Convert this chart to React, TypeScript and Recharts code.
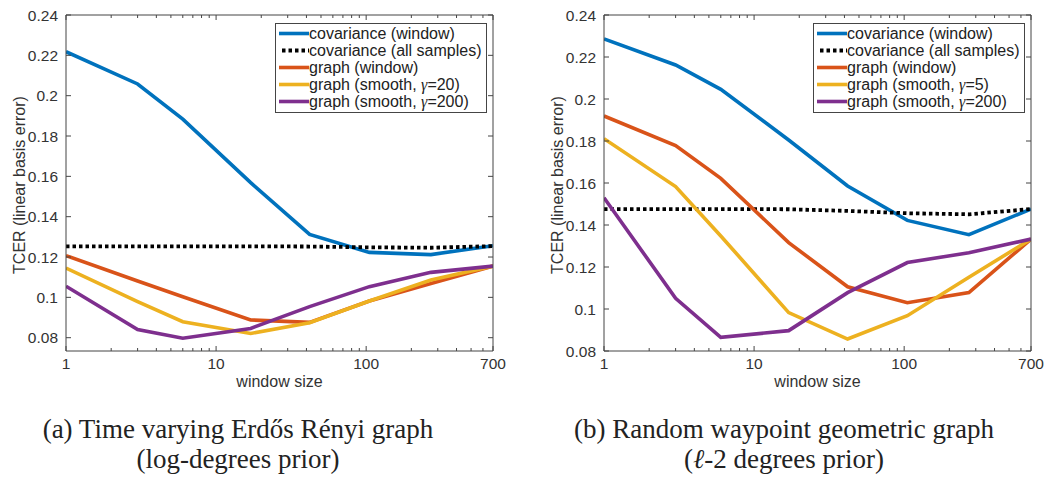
import React from "react";
import { LineChart, Line, XAxis, YAxis, Legend } from "recharts";

// window sizes (log x axis), shared by both panels
const WINDOW_SIZES = [1, 3, 6, 17, 42, 105, 270, 700];
const X_TICKS = [1, 2, 3, 4, 5, 6, 7, 8, 9, 10, 20, 30, 40, 50, 60, 70, 80, 90, 100, 200, 300, 400, 500, 600, 700];
const X_LABELS = [1, 10, 100, 700];
const Y_TICKS = [0.08, 0.1, 0.12, 0.14, 0.16, 0.18, 0.2, 0.22, 0.24];

// (a) Time varying Erdős Rényi graph
const covWindowA = [0.2218, 0.2058, 0.1884, 0.1569, 0.1312, 0.1223, 0.1212, 0.1256];
const covAllA = [0.1253, 0.1253, 0.1253, 0.1253, 0.1252, 0.1248, 0.1246, 0.1254];
const graphWindowA = [0.1207, 0.1081, 0.1003, 0.0888, 0.0876, 0.0982, 0.1069, 0.1155];
const graphSmooth20A = [0.1145, 0.0979, 0.0879, 0.0821, 0.0874, 0.0982, 0.1086, 0.1155];
const graphSmooth200A = [0.1055, 0.0841, 0.0797, 0.0846, 0.0954, 0.1053, 0.1124, 0.1155];
const NAMES_A = [
  "covariance (window)",
  "covariance (all samples)",
  "graph (window)",
  "graph (smooth, γ=20)",
  "graph (smooth, γ=200)",
];

// (b) Random waypoint geometric graph
const covWindowB = [0.2286, 0.2162, 0.2046, 0.1805, 0.1586, 0.1422, 0.1354, 0.1476];
const covAllB = [0.1476, 0.1476, 0.1476, 0.1475, 0.1467, 0.1456, 0.1451, 0.1476];
const graphWindowB = [0.1919, 0.1778, 0.1622, 0.1316, 0.1106, 0.103, 0.1078, 0.1333];
const graphSmooth5B = [0.1811, 0.1583, 0.1348, 0.0983, 0.0857, 0.0968, 0.1151, 0.1333];
const graphSmooth200B = [0.153, 0.1051, 0.0865, 0.0897, 0.1078, 0.1221, 0.1268, 0.1333];
const NAMES_B = [
  "covariance (window)",
  "covariance (all samples)",
  "graph (window)",
  "graph (smooth, γ=5)",
  "graph (smooth, γ=200)",
];

const SERIES_STYLE = [
  { key: "covWindow", color: "#0072BD", dash: undefined as string | undefined },
  { key: "covAll", color: "#000000", dash: "3.5 3" },
  { key: "graphWindow", color: "#D95319", dash: undefined },
  { key: "graphSmoothLow", color: "#EDB120", dash: undefined },
  { key: "graphSmoothHigh", color: "#7E2F8E", dash: undefined },
];

const FONT = "'Liberation Sans', Arial, Helvetica, sans-serif";
const SERIF = "'Liberation Serif', 'DejaVu Serif', serif";
const AXIS = "#454545";
const TEXT = "#333333";
const LINE_W = 3.6;

const BottomTick = ({ x, y, payload }: any) => {
  const major = X_LABELS.includes(payload.value);
  return (
    <g>
      <line x1={x} x2={x} y1={y} y2={y - (major ? 5 : 3)} stroke={AXIS} />
      {major && (
        <text x={x} y={y + 18} textAnchor="middle" fontSize={15.5} fontFamily={FONT} fill={TEXT}>
          {payload.value}
        </text>
      )}
    </g>
  );
};

const TopTick = ({ x, y, payload }: any) => {
  const major = X_LABELS.includes(payload.value);
  return <line x1={x} x2={x} y1={y} y2={y + (major ? 5 : 3)} stroke={AXIS} />;
};

const LeftTick = ({ x, y, payload }: any) => (
  <g>
    <line x1={x} x2={x + 5} y1={y} y2={y} stroke={AXIS} />
    <text x={x - 8} y={y + 5.5} textAnchor="end" fontSize={15.5} fontFamily={FONT} fill={TEXT}>
      {String(payload.value)}
    </text>
  </g>
);

const RightTick = ({ x, y }: any) => <line x1={x} x2={x - 5} y1={y} y2={y} stroke={AXIS} />;

const renderName = (name: string) => {
  const parts = name.split("γ");
  if (parts.length < 2) return name;
  return (
    <>
      {parts[0]}
      <i style={{ fontFamily: SERIF }}>γ</i>
      {parts[1]}
    </>
  );
};

const makeLegend = (names: string[]) => () =>
  (
    <div
      style={{
        border: `1px solid ${AXIS}`,
        background: "#fff",
        padding: "1px 4px 2px 3px",
        fontFamily: FONT,
        fontSize: 16,
        color: "#222",
        lineHeight: "17px",
      }}
    >
      {SERIES_STYLE.map((s, k) => (
        <div key={s.key} style={{ display: "flex", alignItems: "center", height: 17, whiteSpace: "nowrap" }}>
          <svg width={30} height={17} style={{ flex: "none" }}>
            <line
              x1={s.dash ? 3 : 0}
              x2={30}
              y1={8.5}
              y2={8.5}
              stroke={s.color}
              strokeWidth={s.dash ? 3.8 : LINE_W}
              strokeDasharray={s.dash}
            />
          </svg>
          <span>{renderName(names[k])}</span>
        </div>
      ))}
    </div>
  );

interface PanelProps {
  left: number;
  series: number[][];
  names: string[];
  domain: [number, number];
}

const Panel = ({ left, series, names, domain }: PanelProps) => {
  const data = WINDOW_SIZES.map((x, i) => {
    const row: Record<string, number> = { x };
    SERIES_STYLE.forEach((s, k) => {
      row[s.key] = series[k][i];
    });
    return row;
  });

  return (
    <div style={{ position: "absolute", left, top: 0 }}>
      <LineChart width={512} height={400} data={data} margin={{ top: 14, right: 18, bottom: 9, left: 10 }}>
        <XAxis
          dataKey="x"
          type="number"
          scale="log"
          domain={[1, 700]}
          allowDataOverflow
          ticks={X_TICKS}
          interval={0}
          tick={<BottomTick />}
          tickLine={false}
          tickSize={0}
          tickMargin={0}
          axisLine={{ stroke: AXIS }}
          height={40}
          label={({ viewBox }: any) => (
            <text
              x={viewBox.x + viewBox.width / 2}
              y={viewBox.y + 36}
              textAnchor="middle"
              fontSize={16}
              fontFamily={FONT}
              fill={TEXT}
            >
              window size
            </text>
          )}
        />
        <XAxis
          xAxisId="top"
          orientation="top"
          dataKey="x"
          type="number"
          scale="log"
          domain={[1, 700]}
          allowDataOverflow
          ticks={X_TICKS}
          interval={0}
          tick={<TopTick />}
          tickLine={false}
          tickSize={0}
          tickMargin={0}
          axisLine={{ stroke: AXIS }}
          height={1}
        />
        <YAxis
          type="number"
          domain={domain}
          allowDataOverflow
          ticks={Y_TICKS}
          interval={0}
          tick={<LeftTick />}
          tickLine={false}
          tickSize={0}
          tickMargin={0}
          axisLine={{ stroke: AXIS }}
          width={56}
          label={({ viewBox }: any) => {
            const cx = 25;
            const cy = viewBox.y + viewBox.height / 2 + 2;
            return (
              <text
                x={cx}
                y={cy}
                transform={`rotate(-90 ${cx} ${cy})`}
                textAnchor="middle"
                fontSize={16}
                fontFamily={FONT}
                fill={TEXT}
              >
                TCER (linear basis error)
              </text>
            );
          }}
        />
        <YAxis
          yAxisId="right"
          orientation="right"
          type="number"
          domain={domain}
          allowDataOverflow
          ticks={Y_TICKS}
          interval={0}
          tick={<RightTick />}
          tickLine={false}
          tickSize={0}
          tickMargin={0}
          axisLine={{ stroke: AXIS }}
          width={1}
        />
        <Legend
          layout="vertical"
          align="center"
          verticalAlign="middle"
          content={makeLegend(names)}
          wrapperStyle={{ top: 23, left: 275, width: "auto", height: "auto" }}
        />
        {SERIES_STYLE.map((s, k) => (
          <Line
            key={s.key}
            dataKey={s.key}
            name={names[k]}
            type="linear"
            stroke={s.color}
            strokeWidth={s.dash ? 3.8 : LINE_W}
            strokeDasharray={s.dash}
            dot={false}
            activeDot={false}
            isAnimationActive={false}
          />
        ))}
      </LineChart>
    </div>
  );
};

const captionStyle: React.CSSProperties = {
  position: "absolute",
  top: 414,
  width: 500,
  textAlign: "center",
  fontFamily: SERIF,
  fontSize: 27,
  lineHeight: "30px",
  color: "#222",
  whiteSpace: "nowrap",
};

export default function App() {
  return (
    <div
      style={{
        position: "absolute",
        left: 0,
        top: 0,
        width: 1050,
        height: 478,
        background: "#fff",
        overflow: "hidden",
      }}
    >
      <Panel
        left={0}
        series={[covWindowA, covAllA, graphWindowA, graphSmooth20A, graphSmooth200A]}
        names={NAMES_A}
        domain={[0.0734, 0.24]}
      />
      <Panel
        left={538}
        series={[covWindowB, covAllB, graphWindowB, graphSmooth5B, graphSmooth200B]}
        names={NAMES_B}
        domain={[0.08, 0.24]}
      />
      <div style={{ ...captionStyle, left: 238 - 250 }}>
        (a) Time varying Erdős Rényi graph
        <br />
        (log-degrees prior)
      </div>
      <div style={{ ...captionStyle, left: 784 - 250 }}>
        (b) Random waypoint geometric graph
        <br />
        (<i>ℓ</i>-2 degrees prior)
      </div>
    </div>
  );
}
